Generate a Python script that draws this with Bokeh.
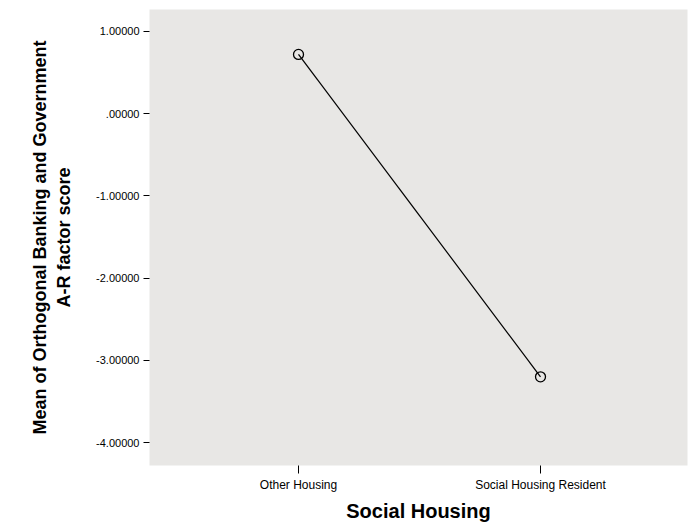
from bokeh.plotting import figure
from bokeh.models import ColumnDataSource, FixedTicker, Range1d
from bokeh.embed import file_html
from bokeh.resources import INLINE

categories = ["Other Housing", "Social Housing Resident"]
means = [0.72, -3.20]
y_ticks = [-4.0, -3.0, -2.0, -1.0, 0.0, 1.0]

def fmt(v):
    s = f"{v:.5f}"
    if s.startswith("0."):
        s = s[1:]
    return s

xs = list(range(1, len(categories) + 1))
src = ColumnDataSource(dict(x=xs, y=means))

p = figure(width=696, height=524, output_backend="svg", toolbar_location=None,
           x_range=Range1d(0.3843, 2.6074), y_range=Range1d(-4.2778, 1.2657),
           min_border_left=149, min_border_right=9, min_border_top=9, min_border_bottom=56)
p.background_fill_color = "#e8e7e5"
p.border_fill_color = "white"
p.outline_line_color = None
p.grid.visible = False

p.line("x", "y", source=src, line_color="black", line_width=1.2)
p.scatter("x", "y", source=src, marker="circle", size=10, fill_color=None,
          line_color="black", line_width=1.3)

font = "Liberation Sans"
xa = p.xaxis[0]
xa.ticker = FixedTicker(ticks=xs)
xa.major_label_overrides = {x: c for x, c in zip(xs, categories)}
xa.axis_label = "Social Housing"
ya = p.yaxis[0]
ya.ticker = FixedTicker(ticks=y_ticks)
ya.major_label_overrides = {v: fmt(v) for v in y_ticks}
ya.axis_label = "Mean of Orthogonal Banking and Government\nA-R factor score"

for ax in (xa, ya):
    ax.axis_line_color = None
    ax.minor_tick_line_color = None
    ax.major_tick_line_color = "black"
    ax.major_tick_in = 0
    ax.major_label_text_font = font
    ax.major_label_text_color = "black"
    ax.axis_label_text_font = font
    ax.axis_label_text_font_style = "bold"
    ax.axis_label_text_color = "black"

xa.major_tick_out = 8
xa.major_label_standoff = 4
xa.major_label_text_font_size = "12px"
xa.axis_label_text_font_size = "20px"
xa.axis_label_standoff = 5
ya.major_tick_out = 6
ya.major_label_standoff = 4
ya.major_label_text_font_size = "11px"
ya.axis_label_text_font_size = "18px"
ya.axis_label_standoff = 19

open("out.html", "w").write(file_html(p, INLINE))
